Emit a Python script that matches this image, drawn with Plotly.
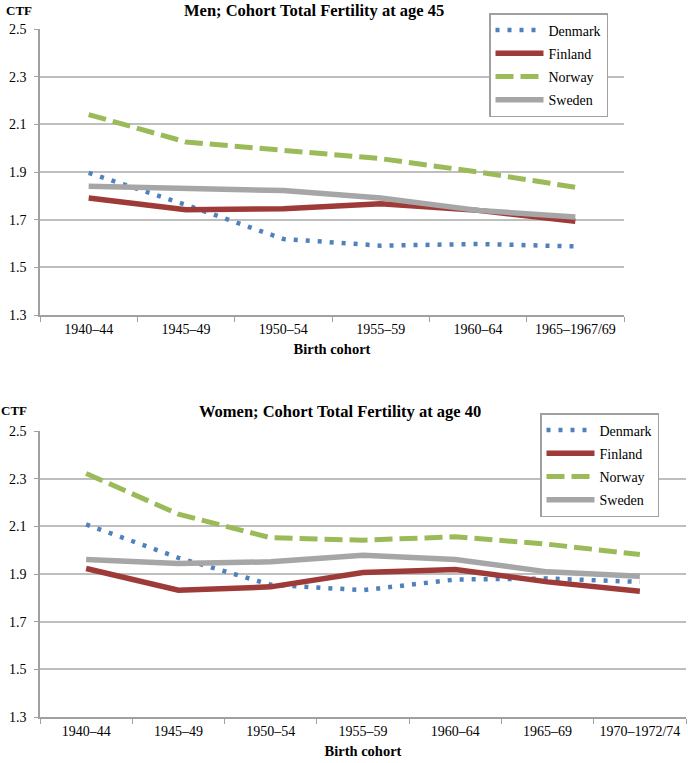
import plotly.graph_objects as go

# 男性 / 女性 出生队列
men_cohorts = ["1940–44", "1945–49", "1950–54", "1955–59", "1960–64", "1965–1967/69"]
women_cohorts = ["1940–44", "1945–49", "1950–54", "1955–59", "1960–64", "1965–69", "1970–1972/74"]

countries = ["Denmark", "Finland", "Norway", "Sweden"]

men_denmark = [1.896, 1.762, 1.619, 1.591, 1.598, 1.588]
men_finland = [1.791, 1.742, 1.746, 1.767, 1.739, 1.693]
men_norway = [2.141, 2.026, 1.991, 1.956, 1.900, 1.836]
men_sweden = [1.840, 1.830, 1.822, 1.791, 1.739, 1.711]

women_denmark = [2.108, 1.968, 1.855, 1.832, 1.877, 1.881, 1.867]
women_finland = [1.923, 1.832, 1.846, 1.906, 1.919, 1.867, 1.828]
women_norway = [2.322, 2.151, 2.052, 2.042, 2.056, 2.025, 1.982]
women_sweden = [1.961, 1.944, 1.951, 1.979, 1.961, 1.909, 1.891]

y_ticks = [1.3, 1.5, 1.7, 1.9, 2.1, 2.3, 2.5]

W, H = 688, 763
FONT = "Liberation Serif"

styles = {
    "Denmark": dict(color="#4F81BD", width=4.5, dash="4px,8px"),
    "Finland": dict(color="#9E3B38", width=5.5, dash="solid"),
    "Norway": dict(color="#9BBB59", width=5, dash="18px,7px"),
    "Sweden": dict(color="#A6A6A6", width=5.5, dash="solid"),
}


def px_x(p):
    return p / W


def px_y(p):
    return 1 - p / H


fig = go.Figure()

men = [men_denmark, men_finland, men_norway, men_sweden]
women = [women_denmark, women_finland, women_norway, women_sweden]

for name, vals in zip(countries, men):
    fig.add_trace(go.Scatter(x=men_cohorts, y=vals, name=name, mode="lines",
                             line=styles[name], xaxis="x", yaxis="y",
                             legend="legend", legendgroup="m" + name))
for name, vals in zip(countries, women):
    fig.add_trace(go.Scatter(x=women_cohorts, y=vals, name=name, mode="lines",
                             line=styles[name], xaxis="x2", yaxis="y2",
                             legend="legend2", legendgroup="w" + name))

axis_common = dict(showline=True, linecolor="#A0A0A0", linewidth=1.5, automargin=False)

xcommon = dict(axis_common, type="category", ticks="outside", tickson="boundaries",
               ticklen=5, tickcolor="#A0A0A0", showgrid=False, tickangle=0,
               tickfont=dict(family=FONT, size=14, color="black"),
               title=dict(text="<b>Birth cohort</b>", font=dict(family=FONT, size=14.5, color="black"),
                          standoff=8))
ycommon = dict(axis_common, range=[1.3, 2.5], tickvals=y_ticks, ticktext=["%.1f" % v for v in y_ticks],
               ticks="outside", ticklen=4, tickcolor="#A0A0A0", showgrid=True,
               ticklabelstandoff=5,
               tickfont=dict(family=FONT, size=14, color="black"),
               gridcolor="#BEBEBE", gridwidth=1.5, zeroline=False)

legend_common = dict(xanchor="left", yanchor="top", bordercolor="#A0A0A0", borderwidth=1.5,
                     bgcolor="white", tracegroupgap=2, itemwidth=48,
                     font=dict(family=FONT, size=14, color="black"))

fig.update_layout(
    width=W, height=H,
    margin=dict(l=0, r=0, t=0, b=0, autoexpand=False),
    paper_bgcolor="white", plot_bgcolor="white",
    font=dict(family=FONT, size=14, color="black"),
    xaxis=dict(xcommon, domain=[px_x(40), px_x(624)], anchor="y",
               range=[-0.5, len(men_cohorts) - 0.5]),
    yaxis=dict(ycommon, domain=[px_y(315), px_y(29)], anchor="x"),
    xaxis2=dict(xcommon, domain=[px_x(40), px_x(686)], anchor="y2",
                range=[-0.5, len(women_cohorts) - 0.5]),
    yaxis2=dict(ycommon, domain=[px_y(717), px_y(431)], anchor="x2"),
    legend=dict(legend_common, x=px_x(489), y=px_y(13)),
    legend2=dict(legend_common, x=px_x(540), y=px_y(413)),
    annotations=[
        dict(text="<b>Men; Cohort Total Fertility at age 45</b>", x=px_x(314), y=px_y(10),
             xref="paper", yref="paper", yanchor="middle", showarrow=False,
             font=dict(family=FONT, size=16.5)),
        dict(text="<b>CTF</b>", x=px_x(5), y=px_y(10), xref="paper", yref="paper",
             xanchor="left", yanchor="middle", showarrow=False, borderpad=0,
             font=dict(family=FONT, size=13)),
        dict(text="<b>Women; Cohort Total Fertility at age 40</b>", x=px_x(340), y=px_y(411),
             xref="paper", yref="paper", yanchor="middle", showarrow=False,
             font=dict(family=FONT, size=16.5)),
        dict(text="<b>CTF</b>", x=px_x(0), y=px_y(410), xref="paper", yref="paper",
             xanchor="left", yanchor="middle", showarrow=False, borderpad=0,
             font=dict(family=FONT, size=13)),
    ],
)

# 去掉页面 body 默认的 8px 边距，让图贴齐窗口左上角；不显示工具栏
fig.write_html("out.html", config={"displayModeBar": False},
               post_script="document.body.style.margin = '0';")
